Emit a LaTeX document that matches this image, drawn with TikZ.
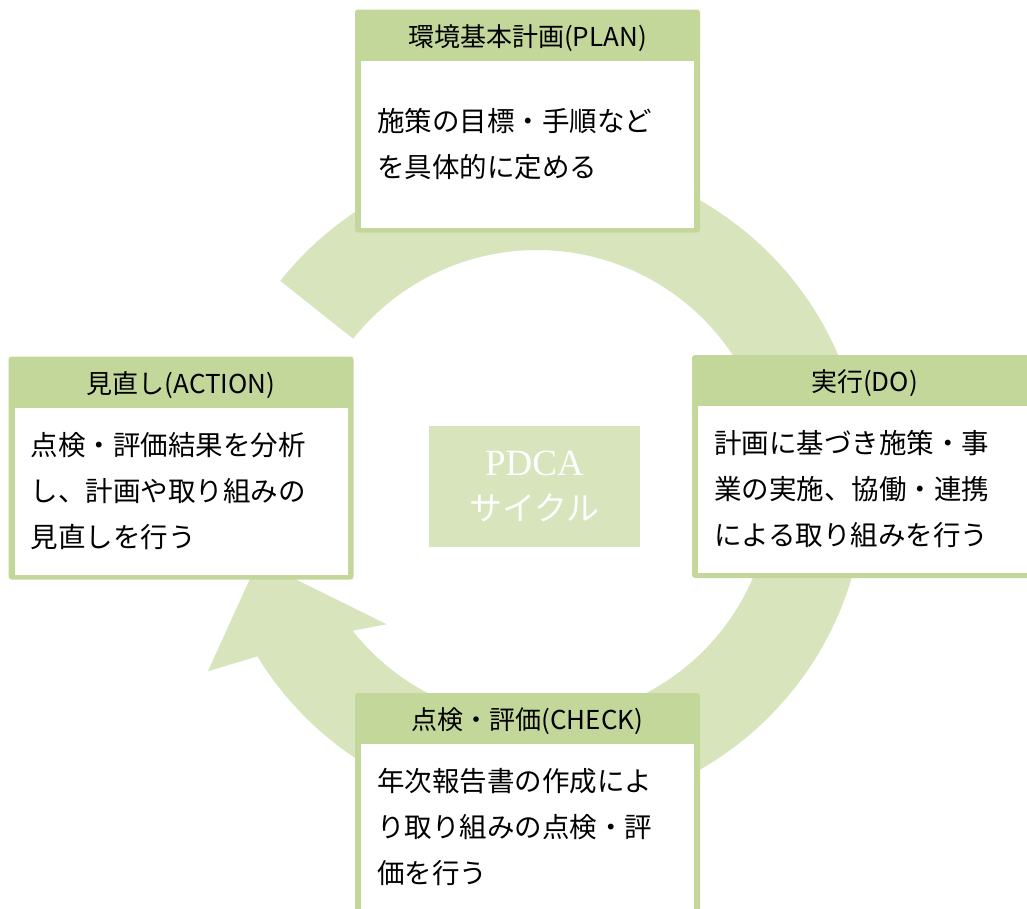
\documentclass[tikz,border=0pt]{standalone}
\usepackage{fontspec}
\setmainfont{Noto Sans CJK JP}
\newfontfamily\pdcaserif{Liberation Serif}
\usetikzlibrary{positioning}
\definecolor{headgreen}{HTML}{C4D79B}
\definecolor{ringgreen}{HTML}{D8E4BC}

\begin{document}
\begin{tikzpicture}[x=1pt,y=-1pt,
	frame/.style={fill=headgreen,rounded corners=3pt,minimum width=345pt,minimum height=223pt,inner sep=0pt},
	headline/.style={anchor=north,minimum height=51pt,inner sep=0pt,yshift=-3pt,font=\fontsize{26}{30}\selectfont},
	bodytext/.style={anchor=south,fill=white,text width=301pt,inner xsep=16pt,inner ysep=0pt,minimum height=167pt,align=left,font=\fontsize{27.5}{46}\selectfont}]
	\path[use as bounding box,fill=white] (0,0) rectangle (1027,908);
	% ring
	\begin{scope}[shift={(537,485)},yscale=-1]
		\fill[ringgreen] (141.5:328) arc[start angle=141.5,end angle=-148.5,radius=328]
			-- (-150.5:378) -- (-164.8:289) -- (-137.2:205) -- (-141.7:235)
			arc[start angle=-141.7,end angle=141.5,radius=235] -- cycle;
	\end{scope}
	\node[fill=ringgreen,minimum width=211pt,minimum height=121pt,text=white,align=center,font=\fontsize{33}{44}\selectfont] (pdca) at (534.5,486.5)
		{{\pdcaserif\fontsize{37}{44}\selectfont PDCA}\\サイクル};
	% plan
	\node[frame] (plan) at (527.5,121) {};
	\node[headline] (plan-h) at (plan.north) {環境基本計画(PLAN)};
	\node[bodytext] (plan-b) at ([yshift=5pt]plan.south) {施策の目標・手順など\\を具体的に定める};
	% do
	\node[frame] (do) at (864.5,466.5) {};
	\node[headline] (do-h) at (do.north) {実行(DO)};
	\node[bodytext] (do-b) at ([yshift=5pt]do.south) {計画に基づき施策・事\\業の実施、協働・連携\\による取り組みを行う};
	% check
	\node[frame] (check) at (527.5,804.5) {};
	\node[headline] (check-h) at (check.north) {点検・評価(CHECK)};
	\node[bodytext] (check-b) at ([yshift=5pt]check.south) {年次報告書の作成によ\\り取り組みの点検・評\\価を行う};
	% action
	\node[frame] (act) at (181,468) {};
	\node[headline] (act-h) at (act.north) {見直し(ACTION)};
	\node[bodytext] (act-b) at ([yshift=5pt]act.south) {点検・評価結果を分析\\し、計画や取り組みの\\見直しを行う};
\end{tikzpicture}
\end{document}
